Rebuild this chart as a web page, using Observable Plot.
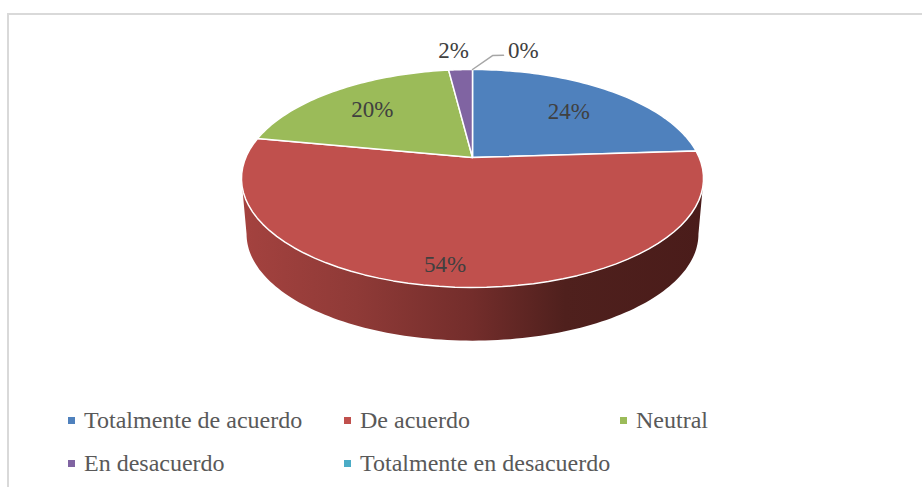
<!DOCTYPE html>
<html lang="es">
<head>
<meta charset="utf-8">
<script src="https://cdn.jsdelivr.net/npm/d3@7"></script>
<script src="https://cdn.jsdelivr.net/npm/@observablehq/plot@0.6"></script>
<style>
  html, body { margin: 0; background: #fff; }
  #frame { position: relative; width: 922px; height: 487px; overflow: hidden; background: #fff; }
  #frame::before { content: ""; position: absolute; left: 7px; top: 13px; right: 0; bottom: -4px;
    border-left: 2px solid #d9d9d9; border-top: 2px solid #d9d9d9; }
  #chart { position: absolute; left: 0; top: 0; }
  #chart svg { display: block; background: transparent; max-width: none; }
  #legend { position: absolute; left: 68px; top: 399px; display: grid; grid-template-columns: 276px 276px 276px;
    grid-auto-rows: 43px; font: 24px "Liberation Serif", serif; color: #595959; }
  #legend .item { display: flex; align-items: center; height: 43px; white-space: nowrap; }
  #legend i { display: block; width: 7px; height: 7px; margin: 0 9px 0 0; }
</style>
</head>
<body>
<div id="frame"><div id="chart"></div><div id="legend"></div></div>
<script>
// Data
const categories = ["Totalmente de acuerdo", "De acuerdo", "Neutral", "En desacuerdo", "Totalmente en desacuerdo"];
const percents = [24, 54, 20, 2, 0];
const sliceColors = ["#4f81bd", "#c0504d", "#9bbb59", "#8064a2", "#4bacc6"];

// Perspective of the tilted disc
const tilt = 0.1927;
const pxPerUnitX = 226.7, pxPerUnitY = 104.95;
const centerX = 472, centerY = 157, width = 922, height = 400;
const deg = Math.PI / 180;
const project = (thetaDeg, r = 1) => {
  const s = Math.sin(thetaDeg * deg) * r, c = Math.cos(thetaDeg * deg) * r, d = 1 + tilt * c;
  return { X: s / d, Y: c / d };
};
const shrink = 0.978, drop = 56 / pxPerUnitY;

// Cumulative angles of the slices
const ends = d3.cumsum(percents).map(v => v * 3.6);
const starts = ends.map((e, i) => e - percents[i] * 3.6);

// Slice outlines: centre -> arc -> centre
const sliceRows = categories.flatMap((name, i) => {
  if (percents[i] === 0) return [];
  const thetas = d3.range(0, 61).map(k => starts[i] + (ends[i] - starts[i]) * k / 60);
  return [{ name, X: 0, Y: 0 }, ...thetas.map(t => ({ name, ...project(t) })), { name, X: 0, Y: 0 }];
});

// Visible wall of the disc, between its two silhouette tangents
const silhouette = Math.acos(-tilt) / deg;
const wallThetas = d3.range(0, 121).map(k => silhouette + (360 - 2 * silhouette) * k / 120);
const wallRows = [
  ...wallThetas.map(t => project(t)),
  ...wallThetas.slice().reverse().map(t => {
    const p = project(t);
    return { X: p.X * shrink, Y: p.Y * shrink - drop };
  })
];

// Label placement in polar terms around each slice's middle angle
const labelReach = [0.68, 0.845, 0.71, 1.30, 1.325];
const labelTurn = [0, 3.3, 0, -1.0, 12.2];
const labelRows = categories.map((name, i) => ({
  text: percents[i] + "%",
  ...project((starts[i] + ends[i]) / 2 + labelTurn[i], labelReach[i])
}));

// Leader of the 0% label
const leaderRows = [project(360, 1), project(5.2, 1.2), project(8, 1.21)];

const wallGradient = () => {
  const defs = d3.create("svg:defs");
  const g = defs.append("linearGradient").attr("id", "wall").attr("x1", 0).attr("x2", 1).attr("y1", 0).attr("y2", 0);
  [[0, "#a4423f"], [0.25, "#8f3a37"], [0.5, "#732d2b"], [0.7, "#4f201d"], [1, "#4a1c1a"]]
    .forEach(([o, c]) => g.append("stop").attr("offset", o).attr("stop-color", c));
  return defs.node();
};

const plot = Plot.plot({
  width, height,
  margin: 0,
  x: { axis: null, domain: [-centerX / pxPerUnitX, (width - centerX) / pxPerUnitX], range: [0, width] },
  y: { axis: null, domain: [(centerY - height) / pxPerUnitY, centerY / pxPerUnitY], range: [height, 0] },
  color: { domain: categories, range: sliceColors },
  marks: [
    wallGradient,
    Plot.line(wallRows, { x: "X", y: "Y", fill: "url(#wall)", stroke: "none" }),
    Plot.line(sliceRows, { x: "X", y: "Y", z: "name", fill: "name", stroke: "white", strokeWidth: 1.5, strokeLinejoin: "round" }),
    Plot.line(leaderRows, { x: "X", y: "Y", stroke: "#a6a6a6", strokeWidth: 1.5 }),
    Plot.text(labelRows, { x: "X", y: "Y", text: "text", dy: 2, fill: "#404040", fontSize: 23, fontFamily: "Liberation Serif", stroke: "none" })
  ]
});
document.getElementById("chart").append(plot);

const legend = document.getElementById("legend");
categories.forEach((name, i) => {
  const item = document.createElement("div");
  item.className = "item";
  const sw = document.createElement("i");
  sw.style.background = sliceColors[i];
  item.append(sw, document.createTextNode(name));
  legend.append(item);
});
</script>
</body>
</html>
